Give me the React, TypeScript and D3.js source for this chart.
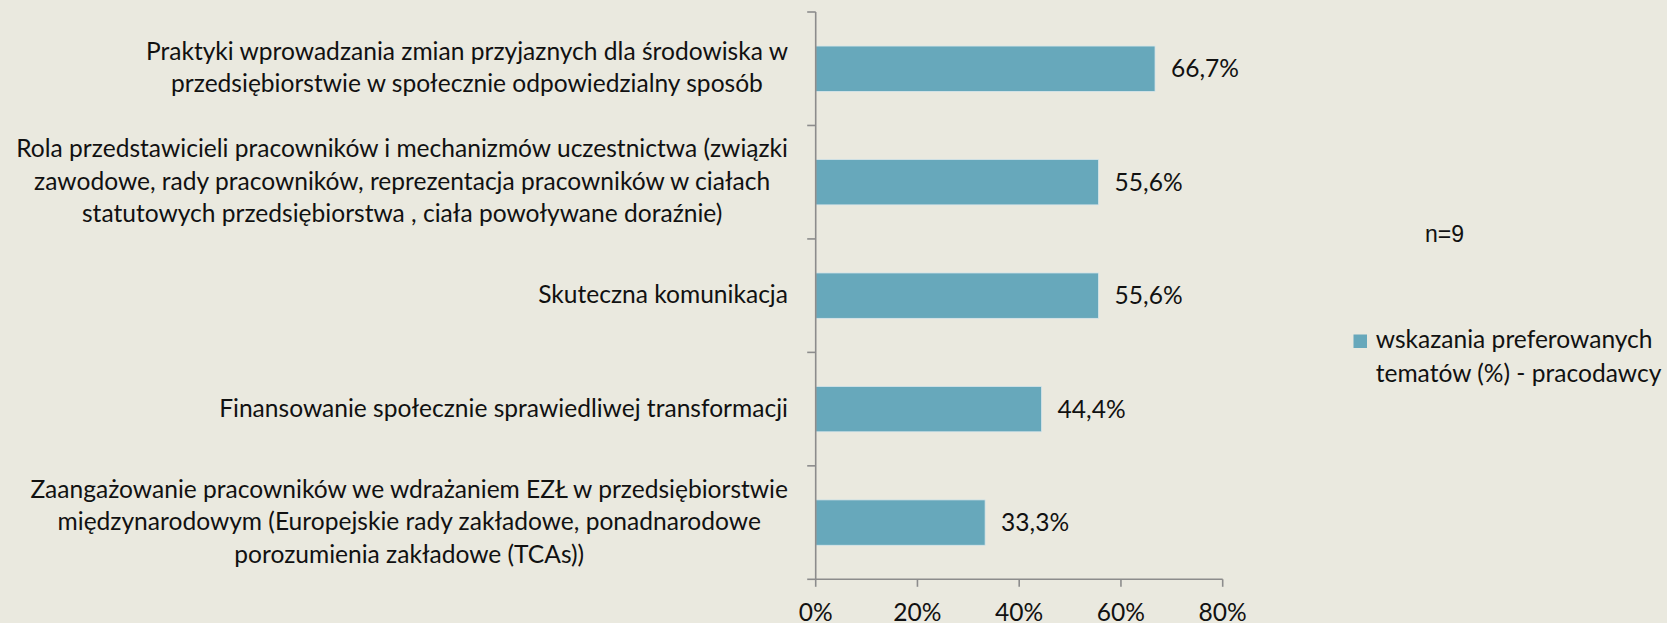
import React, { useEffect, useRef } from 'react';
import * as d3 from 'd3';

const categoryLines: string[][] = [
  ['Praktyki wprowadzania zmian przyjaznych dla środowiska w', 'przedsiębiorstwie w społecznie odpowiedzialny sposób'],
  ['Rola przedstawicieli pracowników i mechanizmów uczestnictwa (związki', 'zawodowe, rady pracowników, reprezentacja pracowników w ciałach', 'statutowych przedsiębiorstwa , ciała powoływane doraźnie)'],
  ['Skuteczna komunikacja'],
  ['Finansowanie społecznie sprawiedliwej transformacji'],
  ['Zaangażowanie pracowników we wdrażaniem EZŁ w przedsiębiorstwie', 'międzynarodowym (Europejskie rady zakładowe, ponadnarodowe', 'porozumienia zakładowe (TCAs))'],
];
const values: number[] = [0.667, 0.556, 0.556, 0.444, 0.333];
const valueLabels: string[] = ['66,7%', '55,6%', '55,6%', '44,4%', '33,3%'];
const xTicks: number[] = [0, 0.2, 0.4, 0.6, 0.8];
const xTickLabels: string[] = ['0%', '20%', '40%', '60%', '80%'];
const legendLines: string[] = ['wskazania preferowanych', 'tematów (%) - pracodawcy'];
const noteText = 'n=9';

const W = 1667;
const H = 623;
const BG = '#EAE9DF';
const BAR = '#67A8BB';
const AXIS = '#8C8C8C';
const TEXT = '#111111';
const FONT = 'Lato, "Open Sans", sans-serif';
const DISPLAY_FS = 24.4;

function calibrateFontSize(): number {
  const canvas = document.createElement('canvas');
  const ctx = canvas.getContext('2d');
  if (!ctx) return 24;
  ctx.font = '100px Lato';
  const samples: [string, number][] = [
    ['Skuteczna komunikacja', 250],
    ['Rola przedstawicieli pracowników i mechanizmów uczestnictwa (związki', 775],
    ['Zaangażowanie pracowników we wdrażaniem EZŁ w przedsiębiorstwie', 759],
  ];
  let measured = 0;
  let target = 0;
  samples.forEach(([s, t]) => {
    measured += ctx.measureText(s).width;
    target += t;
  });
  if (!measured) return 24;
  return (target / measured) * 100;
}

export default function App() {
  const ref = useRef<SVGSVGElement | null>(null);

  useEffect(() => {
    const svg = d3.select(ref.current);
    svg.selectAll('*').remove();
    const baseFs = calibrateFontSize();
    const k = baseFs / DISPLAY_FS;

    // squeeze glyphs horizontally so widths match the calibrated size while glyphs stay tall
    const fit = (sel: d3.Selection<any, any, any, any>) => {
      sel.each(function () {
        const el = this as SVGTextElement;
        const w = el.getComputedTextLength();
        el.setAttribute('textLength', String(w * k));
        el.setAttribute('lengthAdjust', 'spacingAndGlyphs');
        (el as any).__w = w * k;
      });
    };

    svg.append('rect').attr('width', W).attr('height', H).attr('fill', BG);

    const ids = categoryLines.map((_, i) => String(i));
    const x = d3.scaleLinear().domain([0, 0.8]).range([815.7, 1222.7]);
    const y = d3.scaleBand<string>().domain(ids).range([12, 579.3]).paddingInner(0.6).paddingOuter(0.3);
    const step = y.step();
    const y0 = y.range()[0];

    // bars
    svg.append('g').selectAll('rect').data(values).join('rect')
      .attr('x', x(0))
      .attr('y', (_, i) => y(ids[i]) as number)
      .attr('width', (d) => x(d) - x(0))
      .attr('height', y.bandwidth())
      .attr('fill', BAR)
      .attr('stroke', '#d9e6ea')
      .attr('stroke-width', 0.8);

    // value labels
    const vl = svg.append('g').selectAll('text').data(values).join('text')
      .attr('x', (d) => x(d) + 16)
      .attr('y', (_, i) => (y(ids[i]) as number) + y.bandwidth() / 2 + 8.5)
      .attr('font-family', FONT).attr('font-size', DISPLAY_FS).attr('fill', TEXT)
      .text((_, i) => valueLabels[i]);
    fit(vl);

    // vertical axis
    const axG = svg.append('g').attr('stroke', AXIS).attr('stroke-width', 1.6).attr('fill', 'none');
    axG.append('line').attr('x1', x(0)).attr('x2', x(0)).attr('y1', y0).attr('y2', y.range()[1]);
    d3.range(ids.length + 1).forEach((i) => {
      const yy = y0 + i * step;
      axG.append('line').attr('x1', x(0) - 8.5).attr('x2', x(0)).attr('y1', yy).attr('y2', yy);
    });
    // horizontal axis
    const yb = y.range()[1];
    axG.append('line').attr('x1', x(0)).attr('x2', x(0.8)).attr('y1', yb).attr('y2', yb);
    xTicks.forEach((t) => {
      axG.append('line').attr('x1', x(t)).attr('x2', x(t)).attr('y1', yb).attr('y2', yb + 7.5);
    });

    // x tick labels
    const tl = svg.append('g').selectAll('text').data(xTicks).join('text')
      .attr('x', (d) => x(d))
      .attr('y', 620.5)
      .attr('text-anchor', 'middle')
      .attr('font-family', FONT).attr('font-size', DISPLAY_FS).attr('fill', TEXT)
      .text((_, i) => xTickLabels[i]);
    fit(tl);

    // category labels
    const lineH = 32.5;
    const rightEdge = 788;
    categoryLines.forEach((lines, i) => {
      const cy = (y(ids[i]) as number) + y.bandwidth() / 2;
      const g = svg.append('g');
      const texts = g.selectAll('text').data(lines).join('text')
        .attr('y', (_, j) => cy + (j - (lines.length - 1) / 2) * lineH + 7.5)
        .attr('text-anchor', 'middle')
        .attr('font-family', FONT).attr('font-size', DISPLAY_FS).attr('fill', TEXT)
        .text((d) => d);
      fit(texts);
      let maxW = 0;
      texts.each(function () {
        const w = (this as any).__w as number;
        if (w > maxW) maxW = w;
      });
      texts.attr('x', rightEdge - maxW / 2);
    });

    // note
    svg.append('text')
      .attr('x', 1425).attr('y', 241.7)
      .attr('font-family', '"Liberation Sans", Arial, sans-serif')
      .attr('font-size', 23).attr('fill', TEXT)
      .text(noteText);

    // legend
    svg.append('rect').attr('x', 1353.5).attr('y', 334.5).attr('width', 13.5).attr('height', 13.5).attr('fill', BAR);
    const lg = svg.append('g').selectAll('text').data(legendLines).join('text')
      .attr('x', 1375.7)
      .attr('y', (_, j) => 348.3 + j * 33.4)
      .attr('font-family', FONT).attr('font-size', DISPLAY_FS).attr('fill', TEXT)
      .text((d) => d);
    fit(lg);
  }, []);

  return (
    <div style={{ position: 'absolute', left: 0, top: 0 }}>
      <svg ref={ref} width={W} height={H} style={{ display: 'block' }} />
    </div>
  );
}
